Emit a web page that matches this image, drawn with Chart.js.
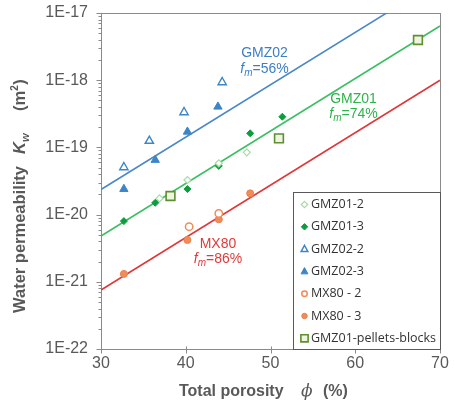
<!DOCTYPE html>
<html>
<head>
<meta charset="utf-8">
<script src="https://cdn.jsdelivr.net/npm/chart.js@4/dist/chart.umd.min.js"></script>
<style>
  html, body { margin: 0; padding: 0; background: #ffffff; }
  #wrap { position: relative; width: 454px; height: 411px; }
</style>
</head>
<body>
<div id="wrap"><canvas id="c" width="454" height="411"></canvas></div>
<script>
// ---- data ----
const phiGMZ01_2 = [36.9, 40.2, 43.9, 47.2];
const kGMZ01_2   = [1.74e-20, 3.27e-20, 5.8e-20, 8.45e-20];

const phiGMZ01_3 = [32.7, 36.4, 40.2, 43.9, 47.6, 51.4];
const kGMZ01_3   = [8.0e-21, 1.5e-20, 2.4e-20, 5.3e-20, 1.62e-19, 2.86e-19];

const phiGMZ02_2 = [32.7, 35.7, 39.8, 44.3];
const kGMZ02_2   = [5.06e-20, 1.25e-19, 3.33e-19, 9.3e-19];

const phiGMZ02_3 = [32.7, 36.4, 40.2, 43.8];
const kGMZ02_3   = [2.4e-20, 6.5e-20, 1.71e-19, 4.03e-19];

const phiMX80_2 = [40.4, 43.9];
const kMX80_2   = [6.6e-21, 1.04e-20];

const phiMX80_3 = [32.7, 40.2, 43.9, 47.6];
const kMX80_3   = [1.31e-21, 4.19e-21, 8.5e-21, 2.07e-20];

const phiPellets = [38.2, 51.0, 67.4];
const kPellets   = [1.89e-20, 1.36e-19, 3.97e-18];

// fitted trend lines (end points)
const fitPhi   = [30, 70];
const fitGMZ02 = [2.36e-20, 3.1e-17];
const fitGMZ01 = [4.8e-21, 6.4e-18];
const fitMX80  = [7.55e-22, 1.0e-18];

const xTicks = [30, 40, 50, 60, 70];
const yExponents = [-22, -21, -20, -19, -18, -17];

const seriesNames = ['GMZ01-2', 'GMZ01-3', 'GMZ02-2', 'GMZ02-3', 'MX80 - 2', 'MX80 - 3', 'GMZ01-pellets-blocks'];

// annotation labels: [name, fm text, colour, phi, k]
const fitLabels = [
  ['GMZ02', '=56%', '#3d7fc6', 49.3, 2.2e-18],
  ['GMZ01', '=74%', '#2db34a', 59.8, 4.6e-19],
  ['MX80',  '=86%', '#e03a3a', 43.8, 3.2e-21]
];

const pts = (xs, ys) => xs.map((v, i) => ({x: v, y: ys[i]}));

const C = {
  blue: '#3d85c6', blueLine: '#4a88c9',
  green: '#0a9e3c', lightGreen: '#a6dca6', greenLine: '#3cbf63',
  red: '#e0383a', orange: '#f08c5a', orangeStroke: '#e9824e',
  sqStroke: '#5f8f2f', sqFill: '#eef4e2'
};

const datasets = [
  {label: seriesNames[0], data: pts(phiGMZ01_2, kGMZ01_2), pointStyle: 'rectRot', pointRadius: 3.5, backgroundColor: '#ffffff', borderColor: C.lightGreen, borderWidth: 1.2},
  {label: seriesNames[1], data: pts(phiGMZ01_3, kGMZ01_3), pointStyle: 'rectRot', pointRadius: 3.5, backgroundColor: C.green, borderColor: C.green, borderWidth: 1},
  {label: seriesNames[2], data: pts(phiGMZ02_2, kGMZ02_2), pointStyle: 'triangle', pointRadius: 4.8, backgroundColor: '#ffffff', borderColor: C.blue, borderWidth: 1.4},
  {label: seriesNames[3], data: pts(phiGMZ02_3, kGMZ02_3), pointStyle: 'triangle', pointRadius: 4.8, backgroundColor: C.blue, borderColor: C.blue, borderWidth: 1},
  {label: seriesNames[4], data: pts(phiMX80_2, kMX80_2), pointStyle: 'circle', pointRadius: 3.7, backgroundColor: '#ffffff', borderColor: C.orange, borderWidth: 1.5},
  {label: seriesNames[5], data: pts(phiMX80_3, kMX80_3), pointStyle: 'circle', pointRadius: 3.5, backgroundColor: C.orange, borderColor: C.orangeStroke, borderWidth: 1},
  {label: seriesNames[6], data: pts(phiPellets, kPellets), pointStyle: 'rect', pointRadius: 6.2, backgroundColor: C.sqFill, borderColor: C.sqStroke, borderWidth: 1.6},
  {label: 'fitGMZ02', data: pts(fitPhi, fitGMZ02), showLine: true, pointRadius: 0, borderColor: C.blueLine, borderWidth: 1.6, fill: false},
  {label: 'fitGMZ01', data: pts(fitPhi, fitGMZ01), showLine: true, pointRadius: 0, borderColor: C.greenLine, borderWidth: 1.6, fill: false},
  {label: 'fitMX80',  data: pts(fitPhi, fitMX80),  showLine: true, pointRadius: 0, borderColor: C.red, borderWidth: 1.6, fill: false}
];

const SANS = '"Liberation Sans", Arial, sans-serif';

function drawMarker(ctx, ds, x, y, r) {
  ctx.save();
  ctx.fillStyle = ds.backgroundColor;
  ctx.strokeStyle = ds.borderColor;
  ctx.lineWidth = ds.borderWidth;
  ctx.beginPath();
  if (ds.pointStyle === 'rectRot') {
    ctx.moveTo(x, y - r); ctx.lineTo(x + r, y); ctx.lineTo(x, y + r); ctx.lineTo(x - r, y); ctx.closePath();
  } else if (ds.pointStyle === 'triangle') {
    ctx.moveTo(x, y - r); ctx.lineTo(x + r * 0.9, y + r * 0.65); ctx.lineTo(x - r * 0.9, y + r * 0.65); ctx.closePath();
  } else if (ds.pointStyle === 'circle') {
    ctx.arc(x, y, r * 0.85, 0, Math.PI * 2);
  } else {
    ctx.rect(x - r, y - r, 2 * r, 2 * r);
  }
  ctx.fill(); ctx.stroke();
  ctx.restore();
}

const decor = {
  id: 'decor',
  beforeDatasetsDraw(chart) {
    const {ctx, chartArea: a, scales: {x, y}} = chart;
    ctx.save();
    ctx.strokeStyle = '#8a8a8a';
    ctx.lineWidth = 1;
    const L = Math.round(a.left) + 0.5, T = Math.round(a.top) + 0.5;
    const R = Math.round(a.right) + 0.5, B = Math.round(a.bottom) + 0.5;
    ctx.strokeRect(L, T, R - L, B - T);
    ctx.beginPath();
    yExponents.forEach(e => {
      for (let m = 1; m <= 9; m++) {
        if (e === yExponents[yExponents.length - 1] && m > 1) break;
        const py = Math.round(y.getPixelForValue(m * Math.pow(10, e))) + 0.5;
        const len = m === 1 ? 5 : 3;
        ctx.moveTo(L - len, py); ctx.lineTo(L, py);
      }
    });
    xTicks.forEach(v => {
      const px = Math.round(x.getPixelForValue(v)) + 0.5;
      ctx.moveTo(px, B - 3); ctx.lineTo(px, B + 4);
    });
    ctx.stroke();
    ctx.restore();
  },
  afterDraw(chart) {
    const {ctx, chartArea: a, scales: {x, y}} = chart;
    ctx.save();
    // fit labels
    fitLabels.forEach(([name, fm, col, px, ky]) => {
      const cx = x.getPixelForValue(px);
      const by = y.getPixelForValue(ky);
      ctx.fillStyle = col;
      ctx.textBaseline = 'alphabetic';
      ctx.font = '14px ' + SANS;
      ctx.textAlign = 'center';
      ctx.fillText(name, cx, by);
      const fFont = 'italic 14px ' + SANS, mFont = 'italic 10px ' + SANS, nFont = '14px ' + SANS;
      ctx.font = fFont; const wf = ctx.measureText('f').width;
      ctx.font = mFont; const wm = ctx.measureText('m').width;
      ctx.font = nFont; const wn = ctx.measureText(fm).width;
      let sx = cx - (wf + wm + wn) / 2;
      const by2 = by + 15.5;
      ctx.textAlign = 'left';
      ctx.font = fFont; ctx.fillText('f', sx, by2); sx += wf;
      ctx.font = mFont; ctx.fillText('m', sx, by2 + 3); sx += wm;
      ctx.font = nFont; ctx.fillText(fm, sx, by2);
    });

    // y axis title (rotated)
    ctx.fillStyle = '#595959';
    ctx.save();
    ctx.translate(25, 313);
    ctx.rotate(-Math.PI / 2);
    ctx.textAlign = 'left';
    ctx.textBaseline = 'alphabetic';
    ctx.font = 'bold 16.5px ' + SANS;
    ctx.fillText('Water permeability', 0, 0);
    ctx.font = 'italic bold 16.5px ' + SANS;
    ctx.fillText('K', 159, 0);
    const kw = ctx.measureText('K').width;
    ctx.font = 'italic bold 11px ' + SANS;
    ctx.fillText('w', 159 + kw, 4);
    ctx.font = 'bold 16.5px ' + SANS;
    ctx.fillText('(m', 202, 0);
    const wmm = ctx.measureText('(m').width;
    ctx.font = 'bold 10px ' + SANS;
    ctx.fillText('2', 202 + wmm, -7);
    const w2 = ctx.measureText('2').width;
    ctx.font = 'bold 16.5px ' + SANS;
    ctx.fillText(')', 202 + wmm + w2 + 0.5, 0);
    ctx.restore();

    // x axis title
    ctx.textAlign = 'left';
    ctx.textBaseline = 'alphabetic';
    ctx.font = 'bold 16px ' + SANS;
    ctx.fillText('Total porosity', 179, 396);
    ctx.font = 'italic 17px "DejaVu Serif", serif';
    ctx.fillText('\u03d5', 301, 396);
    ctx.font = 'bold 16px ' + SANS;
    ctx.fillText('(%)', 323, 396);

    // legend box
    const lx0 = 293.5, ly0 = 192.5, lx1 = Math.round(a.right) + 0.5, ly1 = Math.round(a.bottom) + 0.5;
    ctx.fillStyle = '#ffffff';
    ctx.fillRect(lx0, ly0, lx1 - lx0, ly1 - ly0);
    ctx.strokeStyle = '#595959';
    ctx.lineWidth = 1;
    ctx.strokeRect(lx0, ly0, lx1 - lx0, ly1 - ly0);
    ctx.font = '12.5px "Open Sans", sans-serif';
    ctx.textBaseline = 'middle';
    ctx.textAlign = 'left';
    for (let i = 0; i < seriesNames.length; i++) {
      const ds = chart.data.datasets[i];
      const iy = 204.5 + i * 22.3;
      const r = ds.pointStyle === 'rect' ? 3.6 : (ds.pointStyle === 'triangle' ? 3.8 : 3.2);
      drawMarker(ctx, ds, 304.5, iy, r);
      ctx.fillStyle = '#333333';
      ctx.fillText(ds.label, 311, iy);
    }
    ctx.restore();
  }
};

new Chart(document.getElementById('c'), {
  type: 'scatter',
  data: {datasets},
  options: {
    responsive: false,
    animation: false,
    devicePixelRatio: 1,
    layout: {padding: {top: 13, right: 14, left: 0, bottom: 0}},
    plugins: {legend: {display: false}, tooltip: {enabled: false}},
    elements: {line: {tension: 0}},
    scales: {
      x: {
        type: 'linear', min: 30, max: 70,
        afterBuildTicks: s => { s.ticks = xTicks.map(v => ({value: v})); },
        afterFit: s => { s.height = 62; s.paddingLeft = 0; s.paddingRight = 0; },
        grid: {display: false, drawTicks: false},
        border: {display: false},
        ticks: {font: {size: 16, family: SANS}, color: '#595959', padding: 5, maxRotation: 0}
      },
      y: {
        type: 'logarithmic', min: 1e-22, max: 1e-17,
        afterBuildTicks: s => { s.ticks = yExponents.map(e => ({value: Math.pow(10, e)})); },
        afterFit: s => { s.width = 101; s.paddingTop = 0; s.paddingBottom = 0; },
        grid: {display: false, drawTicks: false},
        border: {display: false},
        ticks: {
          font: {size: 16, family: SANS}, color: '#595959', padding: 13,
          callback: v => '1E' + Math.round(Math.log10(v))
        }
      }
    }
  },
  plugins: [decor]
});
</script>
</body>
</html>
